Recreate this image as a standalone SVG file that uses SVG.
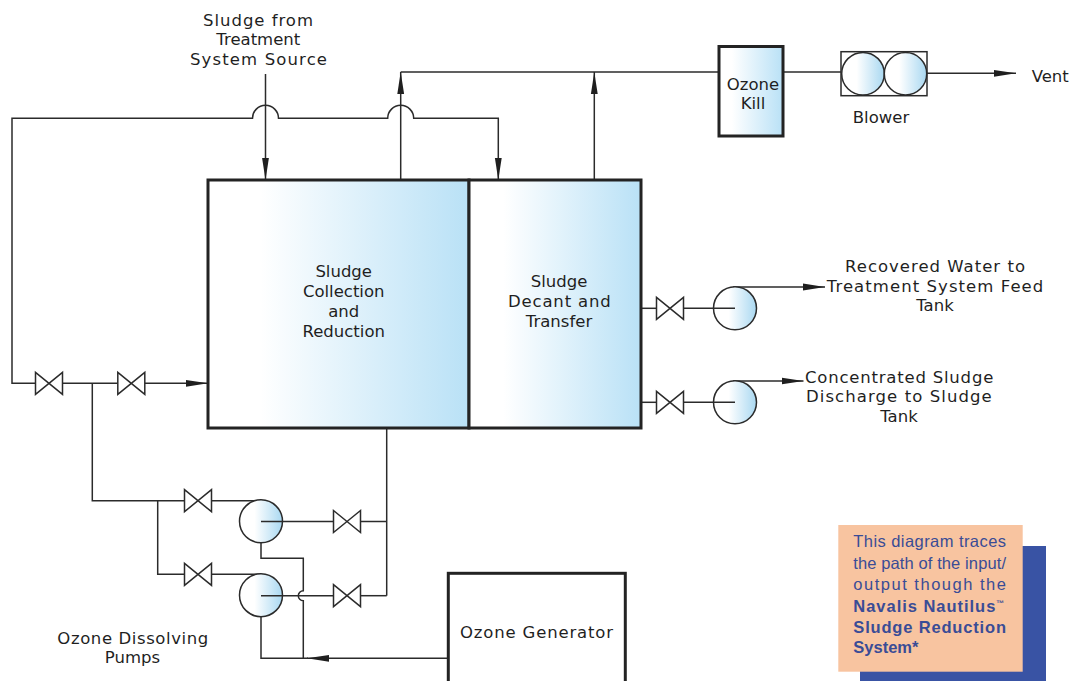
<svg xmlns="http://www.w3.org/2000/svg" xmlns:xlink="http://www.w3.org/1999/xlink" width="1074" height="681" viewBox="0 0 1074 681">
<style>
  .pipe { fill: none; stroke: #2b2b2b; stroke-width: 1.5; }
  .box { stroke: #232323; stroke-width: 3; }
  .thin { stroke: #2b2b2b; stroke-width: 1.5; }
  .lbl { font-family: "DejaVu Sans", "Liberation Sans", sans-serif; font-size: 16.5px; fill: #1f1f1f; }
  .mid { text-anchor: middle; }
  .note { font-family: "Liberation Sans", Arial, sans-serif; font-size: 16.5px; fill: #3a4c96; }
  .bold { font-weight: bold; }
  .valve { fill: #ffffff; stroke: #2b2b2b; stroke-width: 1.5; }
</style>
<defs>
  <linearGradient id="boxGrad" x1="0" y1="0" x2="1" y2="0">
    <stop offset="0" stop-color="#ffffff"/>
    <stop offset="0.2" stop-color="#ffffff"/>
    <stop offset="1" stop-color="#b9e1f6"/>
  </linearGradient>
  <linearGradient id="pumpGrad" x1="0" y1="0" x2="1" y2="0">
    <stop offset="0" stop-color="#ffffff"/>
    <stop offset="0.35" stop-color="#ffffff"/>
    <stop offset="1" stop-color="#a9d8f1"/>
  </linearGradient>
  <marker id="arrow" markerUnits="userSpaceOnUse" viewBox="0 0 22 8" refX="22" refY="4" markerWidth="22" markerHeight="8" orient="auto">
    <path d="M0,0.6 L22,4 L0,7.4 Z" fill="#1f1f1f"/>
  </marker>
  <path id="valve" d="M-13.5,-11 L13.5,11 L13.5,-11 L-13.5,11 Z"/>
</defs>

<rect x="0" y="0" width="1074" height="681" fill="#ffffff"/>

<g id="connectors">
  <path class="pipe" d="M265.5,74 L265.5,180" marker-end="url(#arrow)"/>
  <path class="pipe" d="M35.5,383.3 L12,383.3 L12,118.3 L252.5,118.3 A13,13 0 0 1 278.5,118.3 L387.7,118.3 A13,13 0 0 1 413.7,118.3 L498.3,118.3 L498.3,180" marker-end="url(#arrow)"/>
  <path class="pipe" d="M400.7,180 L400.7,72" marker-end="url(#arrow)"/>
  <path class="pipe" d="M594.3,180 L594.3,72" marker-end="url(#arrow)"/>
  <path class="pipe" d="M400.7,72 L719,72"/>
  <path class="pipe" d="M783,72 L841,72"/>
  <path class="pipe" d="M927,73.3 L1016,73.3" marker-end="url(#arrow)"/>
  <path class="pipe" d="M62.5,383.3 L117.8,383.3"/>
  <path class="pipe" d="M144.8,383.3 L208,383.3" marker-end="url(#arrow)"/>
  <path class="pipe" d="M92.3,383.3 L92.3,500.7 L184.5,500.7"/>
  <path class="pipe" d="M211.5,500.7 L261,500.7"/>
  <path class="pipe" d="M157.7,500.7 L157.7,574.3 L184.5,574.3"/>
  <path class="pipe" d="M211.5,574.3 L261,574.3"/>
  <path class="pipe" d="M386.7,428 L386.7,595.7"/>
  <path class="pipe" d="M360.5,521.5 L386.7,521.5"/>
  <path class="pipe" d="M360.5,595.7 L386.7,595.7"/>
  <path class="pipe" d="M261,542.7 L261,558.3 L303.3,558.3 L303.3,590.7 A5,5 0 0 0 303.3,600.7 L303.3,658.3"/>
  <path class="pipe" d="M448.3,658.3 L307,658.3" marker-end="url(#arrow)"/>
  <path class="pipe" d="M308,658.3 L261,658.3 L261,616.7"/>
  <path class="pipe" d="M641,308.3 L656.5,308.3"/>
  <path class="pipe" d="M641,402.3 L656.5,402.3"/>
  <path class="pipe" d="M733,287 L825,287" marker-end="url(#arrow)"/>
  <path class="pipe" d="M733,381 L803.5,381" marker-end="url(#arrow)"/>
</g>

<g id="collection-tank">
  <rect class="box" x="208" y="180" width="261" height="248" fill="url(#boxGrad)"/>
  <text class="lbl mid" x="343.7" y="276.7">Sludge</text>
  <text class="lbl mid" x="343.7" y="296.7">Collection</text>
  <text class="lbl mid" x="343.7" y="316.7">and</text>
  <text class="lbl mid" x="343.7" y="336.7">Reduction</text>
</g>

<g id="decant-tank">
  <rect class="box" x="469" y="180" width="172" height="248" fill="url(#boxGrad)"/>
  <text class="lbl mid" x="559" y="287.3">Sludge</text>
  <text class="lbl" x="508" y="307" textLength="102.7" lengthAdjust="spacing">Decant and</text>
  <text class="lbl mid" x="559" y="326.7">Transfer</text>
</g>

<g id="ozone-kill">
  <rect class="box" x="719" y="46.5" width="64" height="89.5" fill="url(#boxGrad)"/>
  <text class="lbl mid" x="753" y="90">Ozone</text>
  <text class="lbl mid" x="753" y="109.3">Kill</text>
</g>

<g id="blower">
  <rect class="thin" x="841" y="51.7" width="86" height="44" fill="#ffffff"/>
  <circle class="thin" cx="863" cy="73.7" r="21.3" fill="url(#pumpGrad)"/>
  <circle class="thin" cx="905.5" cy="73.7" r="21.2" fill="url(#pumpGrad)"/>
  <text class="lbl mid" x="881" y="122.7">Blower</text>
</g>

<g id="vent-label">
  <text class="lbl" x="1031.7" y="81.7">Vent</text>
</g>

<g id="source-label">
  <text class="lbl" x="203" y="25.5" textLength="110" lengthAdjust="spacing">Sludge from</text>
  <text class="lbl mid" x="258.3" y="45">Treatment</text>
  <text class="lbl" x="190" y="65" textLength="137" lengthAdjust="spacing">System Source</text>
</g>

<g id="ozone-generator">
  <rect class="box" x="448.3" y="573.3" width="177" height="120" fill="#ffffff"/>
  <text class="lbl" x="460" y="637.5" textLength="153" lengthAdjust="spacing">Ozone Generator</text>
</g>

<g id="valves">
  <use href="#valve" class="valve" x="49" y="383.3"/>
  <use href="#valve" class="valve" x="131.3" y="383.3"/>
  <use href="#valve" class="valve" x="198" y="500.7"/>
  <use href="#valve" class="valve" x="198" y="574.3"/>
  <use href="#valve" class="valve" x="347" y="521.5"/>
  <use href="#valve" class="valve" x="347" y="595.7"/>
  <use href="#valve" class="valve" x="670" y="308.3"/>
  <use href="#valve" class="valve" x="670" y="402.3"/>
</g>

<g id="ozone-dissolving-pumps">
  <circle class="thin" cx="261" cy="521.3" r="21.5" fill="url(#pumpGrad)"/>
  <path class="pipe" d="M261,521.5 L333.5,521.5"/>
  <circle class="thin" cx="261" cy="595.2" r="21.5" fill="url(#pumpGrad)"/>
  <path class="pipe" d="M261,595.7 L333.5,595.7"/>
  <text class="lbl" x="57.3" y="644" textLength="151" lengthAdjust="spacing">Ozone Dissolving</text>
  <text class="lbl mid" x="132.5" y="663.3">Pumps</text>
</g>

<g id="recovered-water-pump">
  <circle class="thin" cx="735" cy="308.3" r="21.5" fill="url(#pumpGrad)"/>
  <path class="pipe" d="M683.5,308.3 L735,308.3"/>
  <text class="lbl" x="845" y="271.7" textLength="180" lengthAdjust="spacing">Recovered Water to</text>
  <text class="lbl" x="826.7" y="291.7" textLength="216.6" lengthAdjust="spacing">Treatment System Feed</text>
  <text class="lbl mid" x="935" y="311">Tank</text>
</g>

<g id="concentrated-sludge-pump">
  <circle class="thin" cx="735" cy="402.3" r="21.5" fill="url(#pumpGrad)"/>
  <path class="pipe" d="M683.5,402.3 L735,402.3"/>
  <text class="lbl" x="805" y="382.7" textLength="188.3" lengthAdjust="spacing">Concentrated Sludge</text>
  <text class="lbl" x="806" y="402.3" textLength="185.7" lengthAdjust="spacing">Discharge to Sludge</text>
  <text class="lbl mid" x="899" y="421.7">Tank</text>
</g>

<g id="callout">
  <rect x="860" y="546" width="186" height="140" fill="#3953a4"/>
  <rect x="838.3" y="525" width="184.4" height="146.7" fill="#f8c4a0"/>
  <text class="note" x="853.3" y="547.3" textLength="152.7" lengthAdjust="spacing">This diagram traces</text>
  <text class="note" x="853.3" y="569.3" textLength="152.7" lengthAdjust="spacing">the path of the input/</text>
  <text class="note" x="853.3" y="590" textLength="152.7" lengthAdjust="spacing">output though the</text>
  <text class="note bold" x="853.3" y="611.7" textLength="151" lengthAdjust="spacing">Navalis Nautilus<tspan font-size="8" dy="-6">™</tspan></text>
  <text class="note bold" x="853.3" y="632.7" textLength="152.7" lengthAdjust="spacing">Sludge Reduction</text>
  <text class="note bold" x="853.3" y="653.3">System*</text>
</g>
</svg>
